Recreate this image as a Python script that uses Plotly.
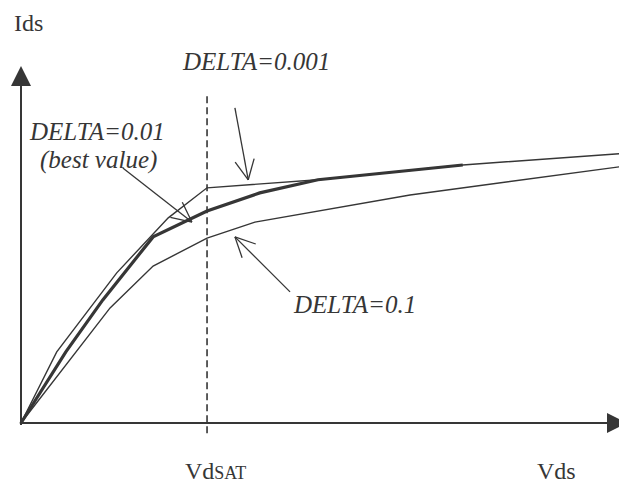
import math
import plotly.graph_objects as go

# ---- data (arbitrary units) ----
delta_001_x = [0.0, 0.59, 1.58, 2.43, 3.07, 4.90, 7.29, 10.0]
delta_001_y = [0.0, 1.68, 3.55, 4.85, 5.56, 5.75, 6.10, 6.38]

delta_01_x = [0.0, 0.74, 1.35, 2.18, 3.07, 3.94, 4.90, 7.29]
delta_01_y = [0.0, 1.68, 2.91, 4.40, 5.01, 5.44, 5.75, 6.10]

delta_1_x = [0.0, 1.47, 2.18, 3.07, 3.86, 6.42, 10.0]
delta_1_y = [0.0, 2.72, 3.71, 4.37, 4.75, 5.39, 6.08]

vd_sat = 3.07

INK = "#363636"
FONT = "Liberation Serif"

# pixel scale of the drawing (px per data unit)
SX, SY = 60.6, 42.3
# the page puts the figure 8px from the top-left corner
W, H = 619, 480
X_RANGE = [(8 - 21) / SX, 10.0]
Y_RANGE = [(423 - 488) / SY, (423 - 8) / SY]

fig = go.Figure()
fig.add_trace(go.Scatter(x=delta_001_x, y=delta_001_y, mode="lines",
                         line=dict(color=INK, width=1.4), name="DELTA=0.001"))
fig.add_trace(go.Scatter(x=delta_01_x, y=delta_01_y, mode="lines",
                         line=dict(color=INK, width=3.2), name="DELTA=0.01"))
fig.add_trace(go.Scatter(x=delta_1_x, y=delta_1_y, mode="lines",
                         line=dict(color=INK, width=1.4), name="DELTA=0.1"))

shapes = []
# dashed Vd_SAT marker
shapes.append(dict(type="line", xref="x", yref="y", x0=vd_sat, x1=vd_sat, y0=-0.24, y1=7.80,
                   line=dict(color=INK, width=1.6, dash="7px,4px")))


def unit_px(x0, y0, x1, y1):
    dx, dy = (x1 - x0) * SX, (y1 - y0) * SY
    n = math.hypot(dx, dy)
    return dx / n, dy / n


def axis_arrow(x0, y0, x1, y1, head_len=20, half_w=10):
    ux, uy = unit_px(x0, y0, x1, y1)
    bx, by = x1 - ux * head_len / SX, y1 - uy * head_len / SY
    px, py = -uy, ux
    c1 = (bx + px * half_w / SX, by + py * half_w / SY)
    c2 = (bx - px * half_w / SX, by - py * half_w / SY)
    shapes.append(dict(type="line", xref="x", yref="y", x0=x0, y0=y0, x1=bx, y1=by,
                       line=dict(color=INK, width=2)))
    shapes.append(dict(type="path", xref="x", yref="y",
                       path="M %f,%f L %f,%f L %f,%f Z" % (x1, y1, c1[0], c1[1], c2[0], c2[1]),
                       fillcolor=INK, line=dict(width=0)))


def pointer(tx, ty, hx, hy, arm=22, ang=26):
    shapes.append(dict(type="line", xref="x", yref="y", x0=tx, y0=ty, x1=hx, y1=hy,
                       line=dict(color=INK, width=1.3)))
    ux, uy = unit_px(hx, hy, tx, ty)
    for s in (1, -1):
        a = math.radians(ang * s)
        rx = ux * math.cos(a) - uy * math.sin(a)
        ry = ux * math.sin(a) + uy * math.cos(a)
        shapes.append(dict(type="line", xref="x", yref="y", x0=hx, y0=hy,
                           x1=hx + rx * arm / SX, y1=hy + ry * arm / SY,
                           line=dict(color=INK, width=1.3)))


axis_arrow(-0.02, 0, 10.0, 0)
axis_arrow(0, -0.05, 0, 8.44)

pointer(3.53, 7.45, 3.75, 5.75)
pointer(1.68, 6.03, 2.82, 4.75)
pointer(4.44, 3.10, 3.53, 4.40)


def label(x, y, t, italic=False, size=24, yanchor="middle"):
    return dict(x=x, y=y, xref="x", yref="y", text=("<i>%s</i>" % t) if italic else t,
                showarrow=False, xanchor="center", yanchor=yanchor,
                font=dict(family=FONT, size=size, color=INK))


ann = [
    label(0.13, Y_RANGE[1], "Ids", yanchor="top"),
    label(8.83, -1.13, "Vds"),
    label(3.21, -1.13, "Vd<span style='font-size:18px'>SAT</span>"),
    label(3.88, 8.55, "DELTA=0.001", True, 25),
    label(1.26, 6.89, "DELTA=0.01", True, 25),
    label(1.28, 6.22, "(best value)", True, 25),
    label(5.51, 2.81, "DELTA=0.1", True, 25),
]

fig.update_layout(
    width=W, height=H,
    margin=dict(l=0, r=0, t=0, b=0),
    paper_bgcolor="white", plot_bgcolor="white",
    showlegend=False,
    xaxis=dict(range=X_RANGE, visible=False, fixedrange=True),
    yaxis=dict(range=Y_RANGE, visible=False, fixedrange=True),
    shapes=shapes,
    annotations=ann,
)

fig.write_html("out.html")
